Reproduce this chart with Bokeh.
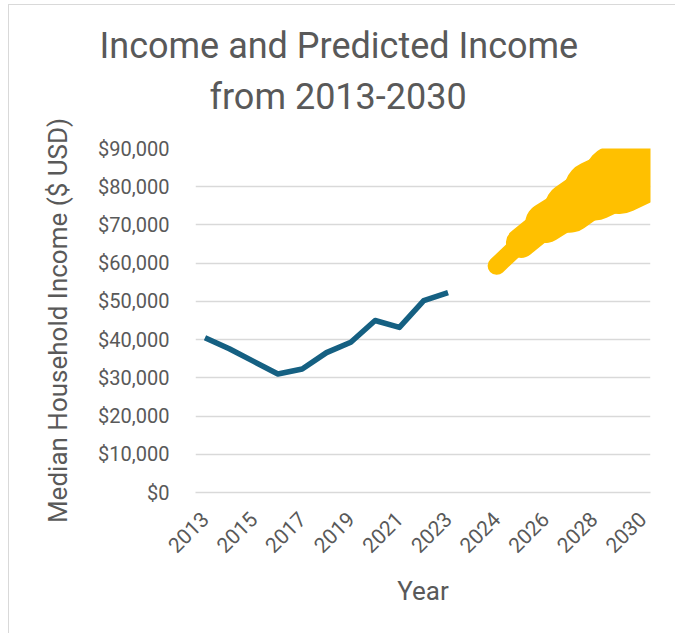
from bokeh.plotting import figure
from bokeh.models import Range1d, FixedTicker, NumeralTickFormatter, Title, ColumnDataSource
from bokeh.embed import file_html
from bokeh.resources import INLINE
from math import pi

# ---- data ----
axis_categories = [2013, 2014, 2015, 2016, 2017, 2018, 2019, 2020, 2021, 2022, 2023,
                   None, 2024, 2025, 2026, 2027, 2028, 2029, 2030]
tick_label_years = [2013, 2015, 2017, 2019, 2021, 2023, 2024, 2026, 2028, 2030]

years_actual = [2013, 2014, 2015, 2016, 2017, 2018, 2019, 2020, 2021, 2022, 2023]
income_actual = [40500, 37600, 34300, 31000, 32300, 36600, 39300, 45000, 43200, 50200, 52300]

years_pred = [2024, 2025, 2026, 2027, 2028, 2029, 2030]
income_pred = [59300, 65300, 70500, 74500, 79000, 82000, 85000]

y_ticks = [0, 10000, 20000, 30000, 40000, 50000, 60000, 70000, 80000, 90000]

TEXT = "#595959"
GRID = "#d9d9d9"
FONT = "Roboto"

pos = {yr: i for i, yr in enumerate(axis_categories) if yr is not None}

p = figure(width=667, height=629, output_backend="svg", toolbar_location=None,
           x_range=Range1d(-0.39, 18.33), y_range=Range1d(0, 90000))
p.min_border_left = 186
p.min_border_right = 26
p.min_border_top = 143
p.min_border_bottom = 142
p.outline_line_color = None
p.background_fill_color = "white"
p.border_fill_color = "white"
p.styles = {"margin-left": "8px", "margin-top": "4px",
            "border-left": "1px solid #d9d9d9", "border-top": "1px solid #d9d9d9"}

# titles (added nearest-to-frame first)
spacer = Title(text=" ", text_font_size="10px", standoff=10)
t2 = Title(text="from 2013-2030", align="left", offset=14,
           text_font=FONT, text_font_size="36px", text_font_style="normal",
           text_color=TEXT, standoff=15)
t1 = Title(text="Income and Predicted Income", align="left", offset=-96,
           text_font=FONT, text_font_size="36px", text_font_style="normal",
           text_color=TEXT, standoff=0)
p.add_layout(spacer, "above")
p.add_layout(t2, "above")
p.add_layout(t1, "above")

# actual series
src_a = ColumnDataSource(dict(x=[pos[y] for y in years_actual], y=income_actual))
p.line("x", "y", source=src_a, line_color="#156082", line_width=5.5,
       line_join="round", line_cap="butt")

# predicted series: segments of increasing width
widths = [18, 30, 40, 50, 60, 70]
xs = [pos[y] for y in years_pred]
src_p = ColumnDataSource(dict(x0=xs[:-1], y0=income_pred[:-1], x1=xs[1:], y1=income_pred[1:], w=widths))
p.segment("x0", "y0", "x1", "y1", source=src_p, line_color="#FFC000",
          line_width="w", line_cap="round")

# axes
p.yaxis.ticker = FixedTicker(ticks=y_ticks)
p.yaxis.formatter = NumeralTickFormatter(format="$0,0")
p.yaxis.axis_line_color = None
p.yaxis.major_tick_line_color = None
p.yaxis.minor_tick_line_color = None
p.yaxis.major_label_text_font = FONT
p.yaxis.major_label_text_font_size = "20px"
p.yaxis.major_label_text_color = TEXT
p.yaxis.major_label_standoff = 20
p.yaxis.axis_label = "Median Household Income ($ USD)"
p.yaxis.axis_label_text_font = FONT
p.yaxis.axis_label_text_font_size = "26px"
p.yaxis.axis_label_text_font_style = "normal"
p.yaxis.axis_label_text_color = TEXT
p.yaxis.axis_label_standoff = 22

p.xaxis.ticker = FixedTicker(ticks=[pos[y] for y in tick_label_years])
p.xaxis.major_label_overrides = {pos[y]: str(y) for y in tick_label_years}
p.xaxis.major_label_orientation = pi / 4
p.xaxis.axis_line_color = GRID
p.xaxis.axis_line_width = 1.5
p.xaxis.major_tick_line_color = None
p.xaxis.minor_tick_line_color = None
p.xaxis.major_label_text_font = FONT
p.xaxis.major_label_text_font_size = "21px"
p.xaxis.major_label_text_color = TEXT
p.xaxis.major_label_standoff = 17
p.xaxis.axis_label = "Year"
p.xaxis.axis_label_text_font = FONT
p.xaxis.axis_label_text_font_size = "26px"
p.xaxis.axis_label_text_font_style = "normal"
p.xaxis.axis_label_text_color = TEXT
p.xaxis.axis_label_standoff = 14

p.xgrid.grid_line_color = None
p.ygrid.ticker = FixedTicker(ticks=y_ticks)
p.ygrid.grid_line_color = GRID
p.ygrid.grid_line_width = 1.5

open("out.html", "w").write(file_html(p, INLINE))
